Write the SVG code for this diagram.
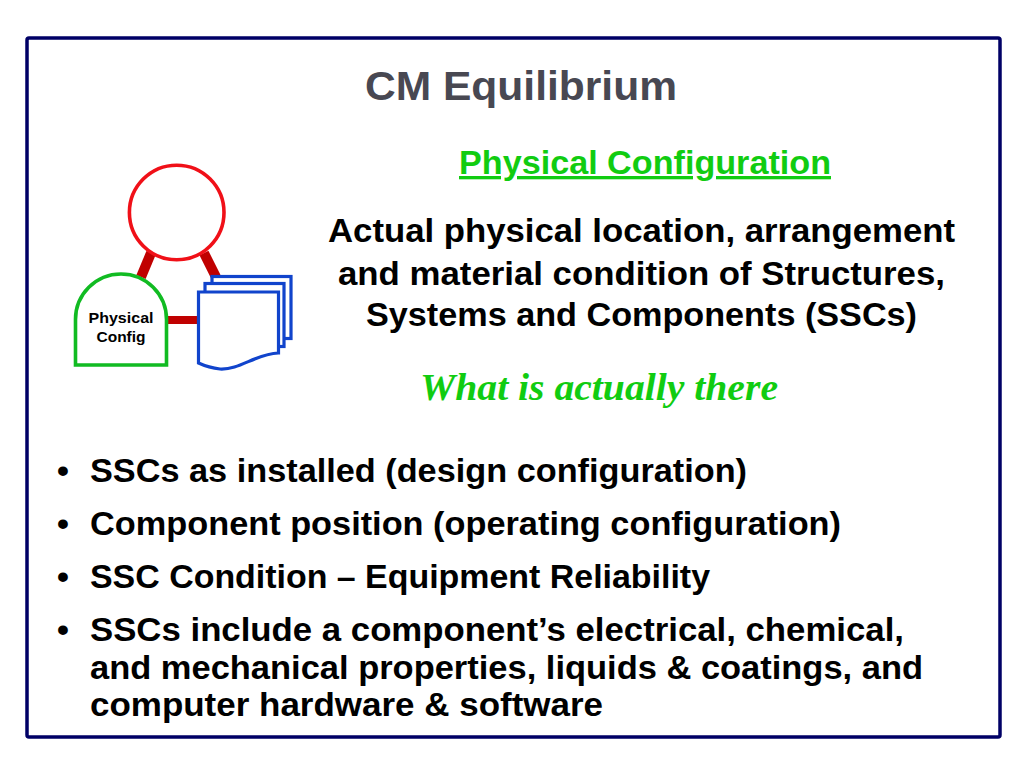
<svg xmlns="http://www.w3.org/2000/svg" width="1024" height="768" viewBox="0 0 1024 768">
<style>
text{font-family:"Liberation Sans",Arial,sans-serif;font-weight:700;fill:#000}
.b{font-size:34px}
.c{font-size:34px}
.l{font-size:15px;text-anchor:middle}
</style>
<rect width="1024" height="768" fill="#fff"/>
<rect x="27" y="38" width="973" height="699" rx="2" fill="#fff" stroke="#000066" stroke-width="3.500"/>
<text x="365" y="100" font-size="41" textLength="312" lengthAdjust="spacingAndGlyphs" style="fill:#484852">CM Equilibrium</text>
<text x="459" y="174" font-size="33" textLength="372" lengthAdjust="spacingAndGlyphs" text-decoration="underline" style="fill:#11cc11">Physical Configuration</text>
<text x="328" y="242" class="c" textLength="627" lengthAdjust="spacingAndGlyphs">Actual physical location, arrangement</text>
<text x="338" y="285" class="c" textLength="607" lengthAdjust="spacingAndGlyphs">and material condition of Structures,</text>
<text x="366" y="326" class="c" textLength="551" lengthAdjust="spacingAndGlyphs">Systems and Components (SSCs)</text>
<text x="420" y="400" font-size="38" font-style="italic" textLength="358" lengthAdjust="spacingAndGlyphs" style="font-family:'Liberation Serif',serif;fill:#11cc11">What is actually there</text>
<g id="connectors" stroke="#c00000" fill="none">
<line x1="151" y1="253" x2="141" y2="277" stroke-width="10"/>
<line x1="204" y1="253" x2="216" y2="277" stroke-width="10"/>
<line x1="167" y1="320" x2="199" y2="320" stroke-width="8"/>
</g>
<g id="node-top"><circle cx="176.700" cy="212.500" r="47.300" fill="#fff" stroke="#f01018" stroke-width="3.600"/></g>
<g id="node-physical-config">
<path d="M75.500 365V319.500a45.500 45.500 0 0 1 91 0V365Z" fill="#fff" stroke="#11bb22" stroke-width="3.600"/>
<text x="121" y="323" class="l" textLength="65" lengthAdjust="spacingAndGlyphs">Physical</text>
<text x="121" y="342" class="l" textLength="49" lengthAdjust="spacingAndGlyphs">Config</text>
</g>
<g id="node-documents" fill="#fff" stroke="#1144cc" stroke-width="3.200">
<rect x="212" y="276.500" width="79" height="62"/>
<rect x="205" y="283.500" width="79" height="63"/>
<path d="M198.500 292H278.500V353C255 354 240 370 220 369C210 368 205 366 198.500 363Z"/>
</g>
<g id="bullets">
<text x="57" y="482" class="b">•</text><text x="90" y="482" class="b" textLength="657" lengthAdjust="spacingAndGlyphs">SSCs as installed (design configuration)</text>
<text x="57" y="535" class="b">•</text><text x="90" y="535" class="b" textLength="751" lengthAdjust="spacingAndGlyphs">Component position (operating configuration)</text>
<text x="57" y="588" class="b">•</text><text x="90" y="588" class="b" textLength="620" lengthAdjust="spacingAndGlyphs">SSC Condition – Equipment Reliability</text>
<text x="57" y="641" class="b">•</text><text x="90" y="641" class="b" textLength="814" lengthAdjust="spacingAndGlyphs">SSCs include a component’s electrical, chemical,</text>
<text x="90" y="679" class="b" textLength="833" lengthAdjust="spacingAndGlyphs">and mechanical properties, liquids &amp; coatings, and</text>
<text x="90" y="716" class="b" textLength="513" lengthAdjust="spacingAndGlyphs">computer hardware &amp; software</text>
</g>
</svg>
